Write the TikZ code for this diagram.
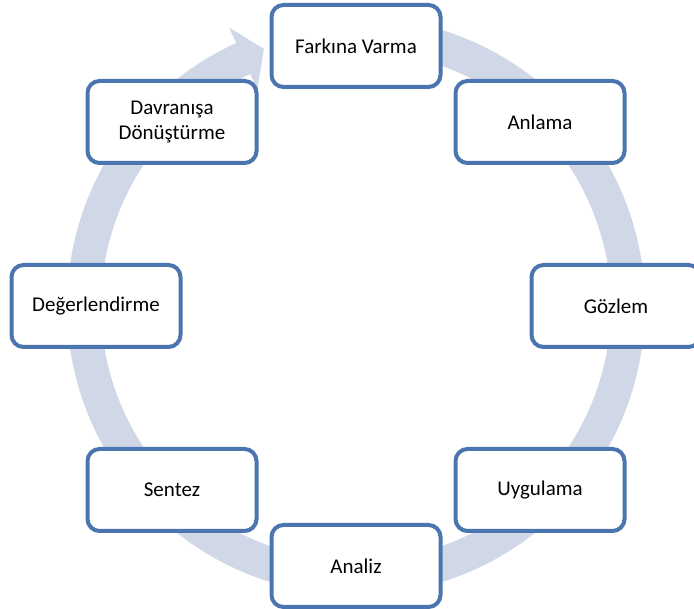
\documentclass[tikz,border=0pt]{standalone}
\usepackage{fontspec}
\setmainfont{Carlito}
\definecolor{boxblue}{HTML}{4A75AE}
\definecolor{ringcol}{HTML}{D0D7E7}
\begin{document}
\begin{tikzpicture}[x=1pt,y=1pt,
  stage/.style={draw=boxblue, line width=4pt, fill=white, rounded corners=12pt,
    minimum width=169pt, minimum height=82pt, align=center, inner sep=0pt,
    font=\fontsize{21}{25}\selectfont}]
\useasboundingbox (0,0) rectangle (694,609);
\begin{scope}[shift={(356,303)}]
\fill[ringcol] (85:289) arc[start angle=85,end angle=-245.5,radius=289]
  -- (-245.5:306) -- (-250.3:273) -- (-245.5:238) -- (-245.5:255)
  arc[start angle=-245.5,end angle=85,radius=255] -- cycle;
\end{scope}
\node[stage] (farkina) at (356,563) {Farkına Varma};
\node[stage] (anlama) at (540,487) {Anlama};
\node[stage] (gozlem) at (616,303) {Gözlem};
\node[stage] (uygulama) at (540,119) {Uygulama};
\node[stage] (analiz) at (356,43) {Analiz};
\node[stage] (sentez) at (172,119) {Sentez};
\node[stage] (degerlendirme) at (96,303) {Değerlendirme};
\node[stage] (davranis) at (172,487) {Davranışa\\Dönüştürme};
\end{tikzpicture}
\end{document}
